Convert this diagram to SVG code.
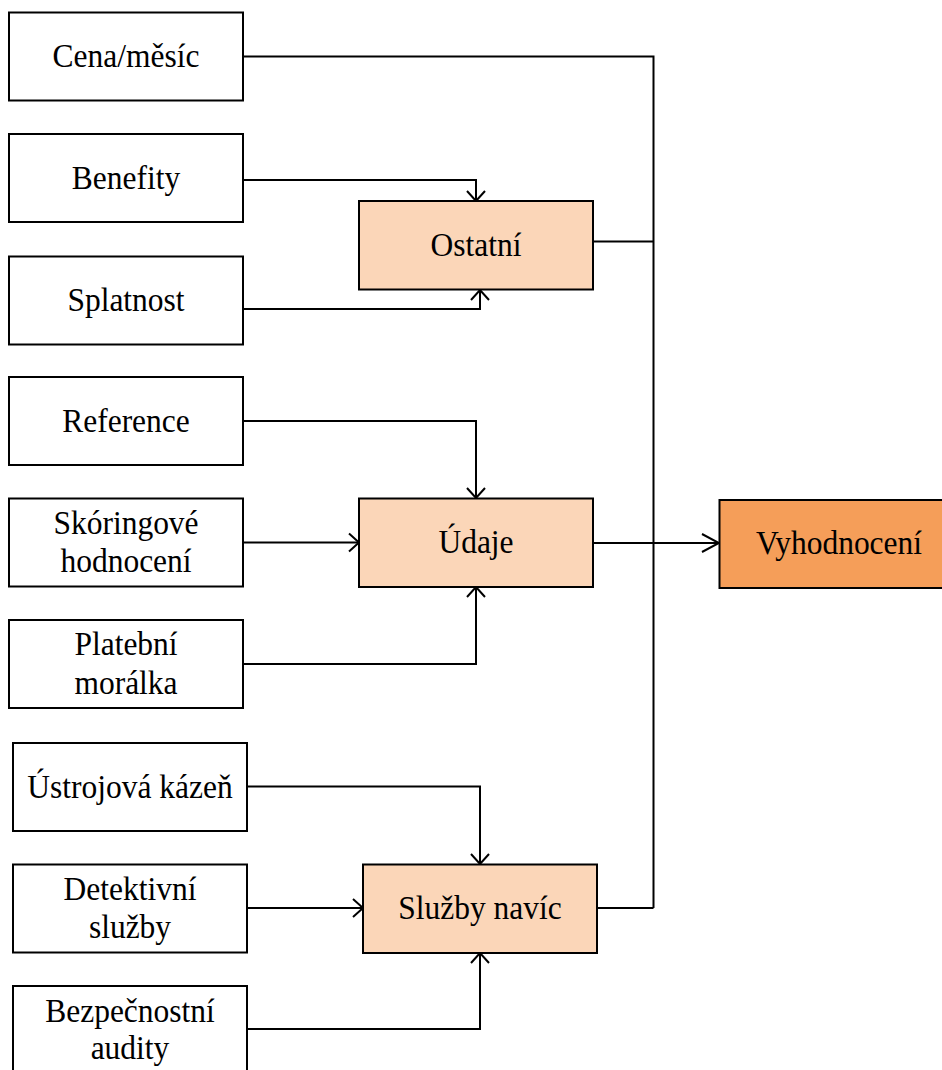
<svg xmlns="http://www.w3.org/2000/svg" width="942" height="1070" viewBox="0 0 942 1070">
<defs>
<style>
.box{fill:#ffffff;stroke:#000;stroke-width:2}
.sub{fill:#FBD6B8;stroke:#000;stroke-width:2}
.main{fill:#F59E59;stroke:#000;stroke-width:2}
.t{font-family:"Liberation Serif","Times New Roman",serif;font-size:31.5px;fill:#000;text-anchor:middle}
.c{fill:none;stroke:#000;stroke-width:2}
</style>
<marker id="ah" markerUnits="userSpaceOnUse" markerWidth="14" markerHeight="22" refX="11" refY="10" orient="auto" viewBox="0 0 14 20">
<polyline points="1,1 11,10 1,19" fill="none" stroke="#000" stroke-width="2"/>
</marker>
<marker id="ahl" markerUnits="userSpaceOnUse" markerWidth="20" markerHeight="22" refX="18" refY="10" orient="auto" viewBox="0 0 20 20">
<polyline points="1,1 18,10 1,19" fill="none" stroke="#000" stroke-width="2"/>
</marker>
</defs>
<rect width="942" height="1070" fill="#fff"/>

<g id="connectors">
<path class="c" d="M243,56.5 H653.5 V908"/>
<path class="c" d="M593,241.5 H653.5"/>
<path class="c" d="M597,908 H653.5"/>
<path class="c" d="M593,543 H719" marker-end="url(#ahl)"/>
<path class="c" d="M243,180 H476 V201" marker-end="url(#ah)"/>
<path class="c" d="M243,309 H480 V290" marker-end="url(#ah)"/>
<path class="c" d="M243,421 H476 V498" marker-end="url(#ah)"/>
<path class="c" d="M243,542.5 H359" marker-end="url(#ah)"/>
<path class="c" d="M243,664 H476 V587" marker-end="url(#ah)"/>
<path class="c" d="M247,786.5 H480 V864" marker-end="url(#ah)"/>
<path class="c" d="M247,908 H363" marker-end="url(#ah)"/>
<path class="c" d="M247,1029 H480 V953" marker-end="url(#ah)"/>
</g>

<g id="cena"><rect class="box" x="9" y="12.5" width="234" height="88"/><text class="t" transform="translate(126,67) scale(1,1.08)">Cena/měsíc</text></g>
<g id="benefity"><rect class="box" x="9" y="134" width="234" height="88"/><text class="t" transform="translate(126,188.5) scale(1,1.08)">Benefity</text></g>
<g id="splatnost"><rect class="box" x="9" y="256.5" width="234" height="88"/><text class="t" transform="translate(126,311) scale(1,1.08)">Splatnost</text></g>
<g id="ostatni"><rect class="sub" x="359" y="201" width="234" height="88.5"/><text class="t" transform="translate(476,255.5) scale(1,1.08)">Ostatní</text></g>

<g id="reference"><rect class="box" x="9" y="377" width="234" height="88"/><text class="t" transform="translate(126,431.5) scale(1,1.08)">Reference</text></g>
<g id="skoring"><rect class="box" x="9" y="498.5" width="234" height="88"/><text class="t" transform="translate(126,533.5) scale(1,1.08)">Skóringové</text><text class="t" transform="translate(126,572) scale(1,1.08)">hodnocení</text></g>
<g id="platebni"><rect class="box" x="9" y="620" width="234" height="88"/><text class="t" transform="translate(126,655) scale(1,1.08)">Platební</text><text class="t" transform="translate(126,693.5) scale(1,1.08)">morálka</text></g>
<g id="udaje"><rect class="sub" x="359" y="498.5" width="234" height="88.5"/><text class="t" transform="translate(476,553) scale(1,1.08)">Údaje</text></g>

<g id="vyhodnoceni"><rect class="main" x="719.5" y="500" width="240" height="88"/><text class="t" transform="translate(839,554) scale(1,1.08)">Vyhodnocení</text></g>

<g id="ustrojova"><rect class="box" x="13" y="743" width="234" height="88"/><text class="t" transform="translate(130,797.5) scale(1,1.08)">Ústrojová kázeň</text></g>
<g id="detektivni"><rect class="box" x="13" y="864.5" width="234" height="88"/><text class="t" transform="translate(130,899.5) scale(1,1.08)">Detektivní</text><text class="t" transform="translate(130,938) scale(1,1.08)">služby</text></g>
<g id="bezpecnostni"><rect class="box" x="13" y="986" width="234" height="100"/><text class="t" transform="translate(130,1021.5) scale(1,1.08)">Bezpečnostní</text><text class="t" transform="translate(130,1058.5) scale(1,1.08)">audity</text></g>
<g id="sluzby"><rect class="sub" x="363" y="864.5" width="234" height="88.5"/><text class="t" transform="translate(480,918.5) scale(1,1.08)">Služby navíc</text></g>
</svg>
